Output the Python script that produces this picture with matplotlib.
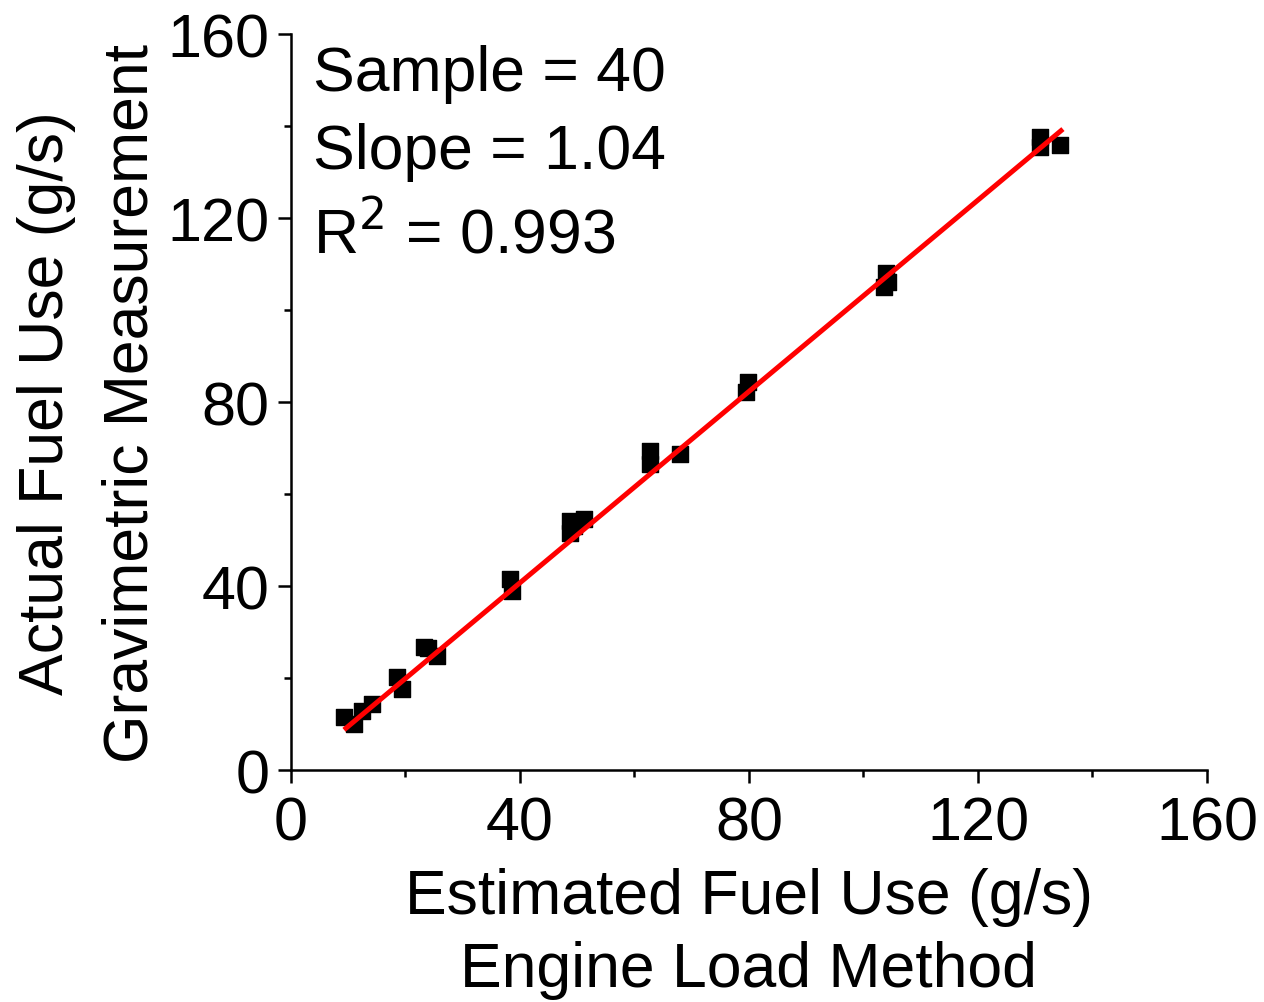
import numpy as np
import matplotlib
matplotlib.use('Agg')
import matplotlib.pyplot as plt
from matplotlib.ticker import MultipleLocator

plt.rcParams['font.family'] = ['Liberation Sans', 'DejaVu Sans']

# estimated (engine load method) vs actual (gravimetric), g/s
est_fuel = [9.3, 11.0, 12.4, 14.1, 18.5, 19.4, 23.2, 25.5, 24.0,
            38.3, 38.6, 48.7, 48.7, 51.2, 49.5,
            62.7, 62.7, 67.9, 79.8, 79.5,
            103.9, 103.6, 104.2, 130.8, 130.8, 134.3]
act_fuel = [11.5, 10.0, 12.8, 14.3, 20.2, 17.6, 26.7, 24.8, 26.5,
            41.5, 38.9, 54.1, 51.5, 54.6, 53.0,
            69.3, 66.5, 68.7, 84.3, 82.2,
            108.0, 105.0, 106.0, 137.6, 135.5, 135.9]

slope = 1.04
intercept = -0.9
fit_range = [9.6, 134.5]

fig = plt.figure(figsize=(12.64, 10.03), dpi=100)
ax = fig.add_axes([0.2302, 0.2313, 0.7247, 0.7338])

ax.scatter(est_fuel, act_fuel, marker='s', s=130, color='black', zorder=2)
xf = np.array(fit_range)
ax.plot(xf, slope * xf + intercept, color='red', lw=3.6, zorder=3)

ax.set_xlim(0, 160)
ax.set_ylim(0, 160)
ax.xaxis.set_major_locator(MultipleLocator(40))
ax.yaxis.set_major_locator(MultipleLocator(40))
ax.xaxis.set_minor_locator(MultipleLocator(20))
ax.yaxis.set_minor_locator(MultipleLocator(20))
ax.spines['top'].set_visible(False)
ax.spines['right'].set_visible(False)
for s in ['left', 'bottom']:
    ax.spines[s].set_linewidth(1.8)
ax.tick_params(which='major', direction='out', length=9.5, width=1.8, labelsize=44)
ax.tick_params(axis='y', which='major', pad=6)
ax.tick_params(axis='x', which='major', pad=9)
ax.tick_params(which='minor', direction='out', length=5, width=1.8)

ax.set_xlabel('Estimated Fuel Use (g/s)\nEngine Load Method', fontsize=45, labelpad=10, linespacing=1.32)
ax.set_ylabel('Actual Fuel Use (g/s)\nGravimetric Measurement', fontsize=45, labelpad=5, linespacing=1.55)

ax.text(0.024, 0.9457, 'Sample = 40', transform=ax.transAxes, fontsize=45, va='center')
ax.text(0.024, 0.841, 'Slope = 1.04', transform=ax.transAxes, fontsize=45, va='center')
ax.text(0.024, 0.728, 'R$^2$ = 0.993', transform=ax.transAxes, fontsize=45, va='center')

fig.savefig('out.png', dpi=100)
